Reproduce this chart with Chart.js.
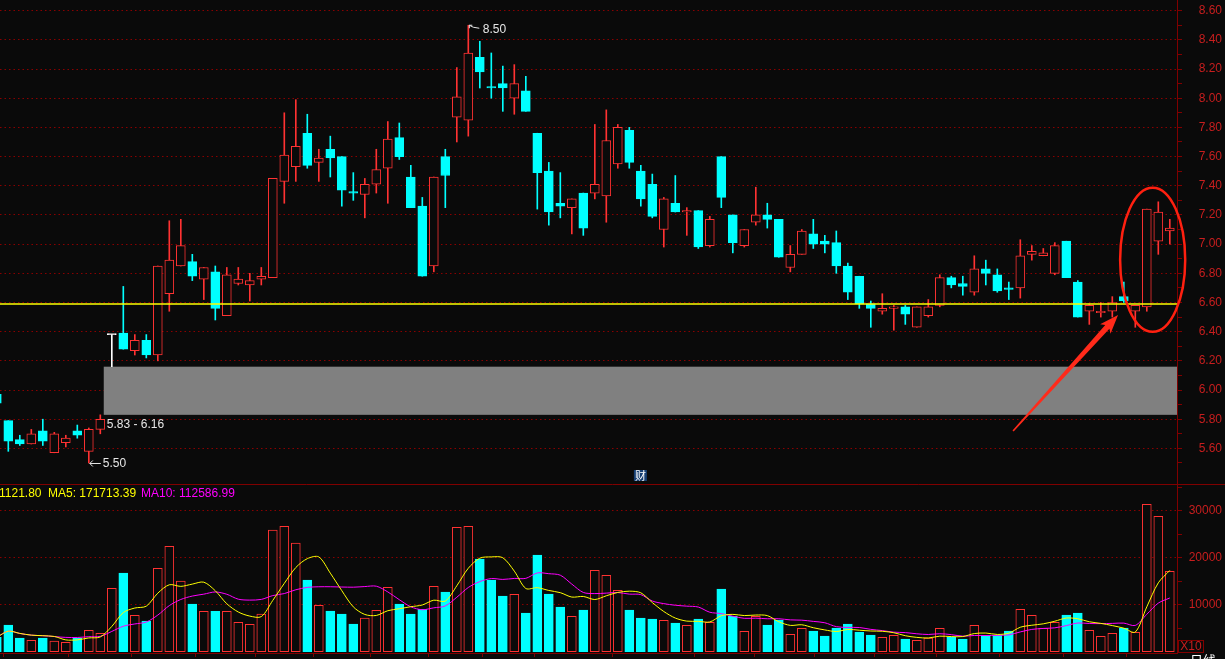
<!DOCTYPE html>
<html>
<head>
<meta charset="utf-8">
<script src="https://cdn.jsdelivr.net/npm/chart.js@4.4.1/dist/chart.umd.min.js"></script>
<style>
  html, body { margin: 0; padding: 0; background: #0a0a0a; overflow: hidden; }
  #wrap { position: relative; width: 1225px; height: 659px; }
  #priceChart { position: absolute; left: 0; top: 0; }
  #volChart { position: absolute; left: 0; top: 484px; }
</style>
</head>
<body>
<div id="wrap">
  <canvas id="priceChart" width="1225" height="484"></canvas>
  <canvas id="volChart" width="1225" height="175"></canvas>
</div>
<script>
// daily candles, oldest first (index 0 is only half on screen)
const opens = [5.97, 5.79, 5.66, 5.63, 5.72, 5.57, 5.64, 5.72, 5.58, 5.73,
  6.38, 6.39, 6.27, 6.34, 6.24, 6.66, 6.85, 6.88, 6.76, 6.81,
  6.51, 6.73, 6.72, 6.76, 6.77, 7.43, 7.53, 7.76, 7.56, 7.65,
  7.60, 7.36, 7.34, 7.41, 7.52, 7.73, 7.46, 7.26, 6.85, 7.60,
  7.87, 7.85, 8.28, 8.08, 8.10, 8.00, 8.05, 7.76, 7.50, 7.28,
  7.25, 7.35, 7.35, 7.33, 7.55, 7.78, 7.50, 7.41, 7.10, 7.28,
  7.22, 7.23, 6.99, 7.60, 7.20, 6.99, 7.15, 7.20, 7.17, 6.84,
  6.93, 7.07, 7.02, 7.01, 6.85, 6.78, 6.59, 6.54, 6.56, 6.57,
  6.43, 6.51, 6.58, 6.77, 6.73, 6.67, 6.83, 6.79, 6.70, 6.70,
  6.93, 6.92, 6.80, 7.02, 6.74, 6.54, 6.53, 6.54, 6.64, 6.54,
  6.57, 7.02, 7.09];
const highs = [5.99, 5.79, 5.69, 5.73, 5.80, 5.71, 5.69, 5.76, 5.74, 5.83,
  6.38, 6.71, 6.38, 6.38, 6.85, 7.16, 7.17, 6.93, 6.84, 6.85,
  6.84, 6.84, 6.80, 6.84, 7.45, 7.90, 7.99, 7.89, 7.65, 7.74,
  7.60, 7.49, 7.45, 7.65, 7.84, 7.83, 7.54, 7.32, 7.46, 7.65,
  8.21, 8.50, 8.39, 8.31, 8.22, 8.23, 8.15, 7.76, 7.56, 7.49,
  7.31, 7.35, 7.82, 7.92, 7.82, 7.80, 7.54, 7.48, 7.32, 7.47,
  7.25, 7.23, 7.19, 7.60, 7.20, 7.10, 7.39, 7.28, 7.17, 6.99,
  7.10, 7.17, 7.06, 7.09, 6.87, 6.78, 6.61, 6.66, 6.58, 6.58,
  6.57, 6.62, 6.79, 6.78, 6.78, 6.92, 6.89, 6.83, 6.74, 7.03,
  6.99, 6.97, 7.01, 7.02, 6.75, 6.59, 6.60, 6.64, 6.74, 6.58,
  7.24, 7.29, 7.17];
const lows = [5.88, 5.58, 5.62, 5.63, 5.62, 5.57, 5.61, 5.67, 5.50, 5.70,
  6.16, 6.28, 6.24, 6.22, 6.20, 6.54, 6.85, 6.75, 6.62, 6.48,
  6.51, 6.72, 6.61, 6.72, 6.77, 7.28, 7.43, 7.52, 7.43, 7.46,
  7.26, 7.30, 7.18, 7.35, 7.28, 7.58, 7.25, 6.78, 6.81, 7.25,
  7.70, 7.74, 8.07, 8.00, 7.91, 7.89, 7.91, 7.24, 7.13, 7.18,
  7.07, 7.06, 7.31, 7.15, 7.52, 7.52, 7.26, 7.18, 6.98, 7.22,
  7.06, 6.97, 6.98, 7.25, 6.94, 6.98, 7.13, 7.11, 6.91, 6.81,
  6.93, 6.97, 6.94, 6.80, 6.62, 6.56, 6.43, 6.52, 6.41, 6.45,
  6.43, 6.50, 6.57, 6.70, 6.65, 6.65, 6.72, 6.67, 6.62, 6.63,
  6.89, 6.92, 6.79, 6.77, 6.50, 6.45, 6.50, 6.50, 6.60, 6.43,
  6.54, 6.93, 7.00];
const closes = [5.91, 5.65, 5.63, 5.70, 5.65, 5.70, 5.67, 5.69, 5.73, 5.80,
  6.38, 6.28, 6.34, 6.24, 6.85, 6.89, 6.99, 6.78, 6.84, 6.56,
  6.79, 6.76, 6.75, 6.78, 7.45, 7.61, 7.67, 7.54, 7.59, 7.59,
  7.37, 7.35, 7.41, 7.51, 7.72, 7.60, 7.25, 6.78, 7.46, 7.47,
  8.01, 8.31, 8.18, 8.07, 8.07, 8.10, 7.91, 7.49, 7.22, 7.26,
  7.31, 7.11, 7.41, 7.71, 7.80, 7.56, 7.31, 7.19, 7.31, 7.22,
  7.23, 6.98, 7.17, 7.32, 7.01, 7.10, 7.20, 7.17, 6.91, 6.93,
  7.09, 7.00, 7.00, 6.85, 6.67, 6.59, 6.56, 6.56, 6.57, 6.52,
  6.57, 6.57, 6.77, 6.72, 6.71, 6.83, 6.80, 6.68, 6.69, 6.92,
  6.95, 6.94, 6.99, 6.77, 6.50, 6.58, 6.54, 6.60, 6.61, 6.58,
  7.24, 7.22, 7.11];
// volume in units of 10 shares (axis shows X10)
const volumes = [3060, 5680, 2920, 2430, 2920, 2280, 2000, 2920, 4550, 3920,
  13490, 16750, 7750, 6530, 17750, 22430, 15040, 10150, 8600, 8600,
  8600, 6260, 5830, 8020, 25890, 26680, 23130, 15260, 9870, 8660,
  8020, 5890, 7170, 8810, 13700, 10150, 8020, 9020, 13920, 12700,
  26470, 26680, 19720, 15260, 11850, 12210, 8230, 20570, 12280, 9510,
  7530, 8870, 17320, 16260, 13060, 8870, 7170, 6960, 6680, 6110,
  5620, 6960, 6260, 13340, 7530, 4340, 7530, 5680, 6750, 3700,
  4980, 4400, 3340, 5040, 5890, 4190, 3550, 3060, 3490, 2700,
  2430, 2920, 4980, 3060, 2700, 5620, 3490, 3490, 4400, 9020,
  7750, 4980, 6260, 7810, 8230, 4550, 3280, 3920, 5040, 4130,
  31360, 28810, 17112];

const priceTicks = [5.6, 5.8, 6.0, 6.2, 6.4, 6.6, 6.8, 7.0, 7.2, 7.4, 7.6, 7.8, 8.0, 8.2, 8.4, 8.6];
const volumeTicks = [10000, 20000, 30000];
const monthTicks = [20, 40, 58, 79, 101];
const monthLabels = ['9', '10', '11', '12', '1'];
const weekTicks = [3.4, 9, 14.5, 25, 30, 35, 44.5, 49, 63.3, 68.5, 73.7, 84.4, 90, 95.5];
const supportLevel = 6.59;
const gapLow = 5.83;
const gapHigh = 6.16;
const volText = 'VOLUME: 171121.80';
const ma5Text = 'MA5: 171713.39';
const ma10Text = 'MA10: 112586.99';

const X_MIN = 0.278, X_MAX = 102.626;
const BG = '#0a0a0a', RED = '#ff3232', CYAN = '#00ffff', GRID = '#8a0000', AXIS = '#800000', LABEL = '#c81e1e';
const FONT = "'Liberation Sans', Arial, sans-serif";

const idx = opens.map((_, i) => i);
function candleColor(i) {
  if (closes[i] > opens[i]) return RED;
  if (closes[i] < opens[i]) return CYAN;
  return '#ffffff';
}
function movingAverage(values, n) {
  return values.map((_, i) => {
    const win = values.slice(Math.max(0, i - n + 1), i + 1);
    return win.reduce((a, b) => a + b, 0) / win.length;
  });
}
const ma5 = movingAverage(volumes, 5);
const ma10 = movingAverage(volumes, 10);

function isLabelled(list, v) {
  return list.some(t => Math.abs(t - v) < 1e-6);
}
function noPadding(scale) {
  scale.paddingTop = 0;
  scale.paddingBottom = 0;
  scale.paddingLeft = 0;
  scale.paddingRight = 0;
}

const priceDecor = {
  id: 'priceDecor',
  beforeDatasetsDraw(chart) {
    const { ctx, chartArea, scales: { x, y } } = chart;
    const left = x.getPixelForValue(9.3);
    const top = y.getPixelForValue(gapHigh);
    const bottom = y.getPixelForValue(gapLow);
    ctx.save();
    ctx.fillStyle = '#808080';
    ctx.fillRect(left, top, chartArea.right - left, bottom - top);
    ctx.restore();
  },
  afterDatasetsDraw(chart) {
    const { ctx, scales: { x, y } } = chart;
    ctx.save();
    ctx.font = '12px ' + FONT;
    ctx.fillStyle = '#e6e6e6';
    ctx.strokeStyle = '#e6e6e6';
    ctx.lineWidth = 1;
    ctx.textBaseline = 'middle';

    // highest high
    let hi = 0, lo = 1;
    idx.forEach(i => { if (highs[i] > highs[hi]) hi = i; if (lows[i] < lows[lo]) lo = i; });
    let px = x.getPixelForValue(hi), py = y.getPixelForValue(highs[hi]);
    ctx.beginPath();
    ctx.moveTo(px + 1, py + 3); ctx.lineTo(px + 1, py); ctx.lineTo(px + 4, py);
    ctx.moveTo(px + 1, py); ctx.lineTo(px + 5, py + 2); ctx.lineTo(px + 11, py + 3);
    ctx.stroke();
    ctx.fillText(highs[hi].toFixed(2), px + 14.5, py + 4);

    // lowest low
    px = x.getPixelForValue(lo); py = y.getPixelForValue(lows[lo]);
    ctx.beginPath();
    ctx.moveTo(px + 1, py + 0.5); ctx.lineTo(px + 12, py + 0.5);
    ctx.moveTo(px + 4, py - 2.5); ctx.lineTo(px + 1, py + 0.5); ctx.lineTo(px + 4, py + 3.5);
    ctx.stroke();
    ctx.fillText(lows[lo].toFixed(2), px + 14, py + 1);

    // gap label
    ctx.fillText(gapLow.toFixed(2) + ' - ' + gapHigh.toFixed(2), x.getPixelForValue(9) + 6.5, y.getPixelForValue(gapLow) + 9.5);

    // red ellipse round the last three candles
    ctx.strokeStyle = '#ff2010';
    ctx.lineWidth = 2.5;
    const cx = x.getPixelForValue(100.51), cy = y.getPixelForValue(6.893);
    const rx = x.getPixelForValue(100.51 + 2.83) - cx;
    const ry = y.getPixelForValue(6.893 - 0.4935) - cy;
    ctx.beginPath();
    ctx.ellipse(cx, cy, rx, ry, 0, 0, Math.PI * 2);
    ctx.stroke();

    // red arrow pointing at the breakout
    const tx = x.getPixelForValue(88.37), ty = y.getPixelForValue(5.719);
    const hx = x.getPixelForValue(97.5), hy = y.getPixelForValue(6.515);
    const ang = Math.atan2(hy - ty, hx - tx);
    const len = Math.hypot(hx - tx, hy - ty);
    ctx.translate(tx, ty);
    ctx.rotate(ang);
    ctx.fillStyle = '#ff2a1a';
    ctx.beginPath();
    ctx.moveTo(0, -0.8);
    ctx.lineTo(len - 16, -2.8);
    ctx.lineTo(len - 19, -7);
    ctx.lineTo(len, 0);
    ctx.lineTo(len - 19, 7);
    ctx.lineTo(len - 16, 2.8);
    ctx.lineTo(0, 0.8);
    ctx.closePath();
    ctx.fill();
    ctx.restore();

    // finance icon
    ctx.save();
    const ix = x.getPixelForValue(55.4), iy = chart.chartArea.bottom - 14;
    ctx.fillStyle = '#163f73';
    ctx.fillRect(ix, iy, 13, 11);
    ctx.fillStyle = '#ffffff';
    ctx.font = "11px 'Noto Sans CJK SC', sans-serif";
    ctx.textAlign = 'center';
    ctx.textBaseline = 'middle';
    ctx.fillText('财', ix + 6.5, iy + 5.5);
    ctx.restore();
  }
};

const volDecor = {
  id: 'volDecor',
  afterDraw(chart) {
    const { ctx, width } = chart;
    ctx.save();
    ctx.strokeStyle = AXIS;
    ctx.lineWidth = 1;
    ctx.beginPath();
    ctx.moveTo(0, 0.5); ctx.lineTo(width, 0.5);
    ctx.stroke();

    ctx.font = '12px ' + FONT;
    ctx.textBaseline = 'middle';
    ctx.fillStyle = '#ffff00';
    ctx.textAlign = 'right';
    ctx.fillText(volText, 41.5, 9.5);
    ctx.textAlign = 'left';
    ctx.fillText(ma5Text, 48, 9.5);
    ctx.fillStyle = '#ff00ff';
    ctx.fillText(ma10Text, 141, 9.5);

    // X10 box
    ctx.strokeStyle = AXIS;
    ctx.strokeRect(1178.5, 156.5, 25, 12);
    ctx.fillStyle = LABEL;
    ctx.textAlign = 'center';
    ctx.fillText('X10', 1191, 163);

    ctx.fillStyle = '#ffffff';
    ctx.textAlign = 'left';
    ctx.textBaseline = 'top';
    ctx.font = "13px 'Noto Sans CJK SC', sans-serif";
    ctx.fillText('日线', 1190, 170);
    ctx.restore();
  }
};

new Chart(document.getElementById('priceChart'), {
  type: 'bar',
  data: {
    datasets: [{
      type: 'line',
      data: [{ x: X_MIN, y: supportLevel }, { x: X_MAX, y: supportLevel }],
      borderColor: '#ffff00',
      borderWidth: 1.6,
      pointRadius: 0,
      order: 0,
    }, {
      data: idx.map(i => ({ x: i, y: [opens[i], closes[i]] })),
      backgroundColor: idx.map(i => closes[i] > opens[i] ? BG : candleColor(i)),
      borderColor: idx.map(candleColor),
      borderWidth: 1,
      borderSkipped: false,
      barThickness: 9,
      minBarLength: 1,
      grouped: false,
      order: 1,
    }, {
      data: idx.map(i => ({ x: i, y: [lows[i], highs[i]] })),
      backgroundColor: idx.map(candleColor),
      borderWidth: 0,
      barThickness: 1,
      grouped: false,
      order: 2,
    }],
  },
  options: {
    responsive: false,
    animation: false,
    events: [],
    layout: { padding: { top: 0, left: 0, bottom: 0, right: 3 }, autoPadding: false },
    plugins: { legend: { display: false }, tooltip: { enabled: false } },
    scales: {
      x: { type: 'linear', min: X_MIN, max: X_MAX, display: false, offset: false },
      y: {
        type: 'linear',
        position: 'right',
        min: 5.356,
        max: 8.673,
        afterBuildTicks(scale) {
          const all = [];
          priceTicks.forEach(v => { all.push(v - 0.1, v); });
          scale.ticks = all.map(v => ({ value: v }));
        },
        afterFit(scale) { scale.width = 45; noPadding(scale); },
        ticks: {
          autoSkip: false,
          color: LABEL,
          font: { family: FONT, size: 12 },
          crossAlign: 'far',
          padding: 13,
          callback: v => isLabelled(priceTicks, v) ? v.toFixed(2) : '',
        },
        grid: {
          color: c => c.tick && isLabelled(priceTicks, c.tick.value) ? GRID : 'rgba(0,0,0,0)',
          tickColor: AXIS,
          tickLength: 5,
          tickBorderDash: [],
        },
        border: { display: true, color: AXIS, width: 1, dash: [1.5, 3] },
      },
    },
  },
  plugins: [priceDecor],
});

new Chart(document.getElementById('volChart'), {
  type: 'bar',
  data: {
    datasets: [{
      type: 'line',
      data: idx.map(i => ({ x: i, y: ma5[i] })),
      borderColor: '#ffff00',
      borderWidth: 1,
      pointRadius: 0,
      tension: 0.3,
      order: 0,
    }, {
      type: 'line',
      data: idx.map(i => ({ x: i, y: ma10[i] })),
      borderColor: '#ff00ff',
      borderWidth: 1,
      pointRadius: 0,
      tension: 0.3,
      order: 1,
    }, {
      data: idx.map(i => ({ x: i, y: volumes[i] })),
      backgroundColor: idx.map(i => closes[i] >= opens[i] ? BG : CYAN),
      borderColor: idx.map(i => closes[i] >= opens[i] ? RED : CYAN),
      borderWidth: 1,
      borderSkipped: false,
      barThickness: 9,
      grouped: false,
      order: 2,
    }],
  },
  options: {
    responsive: false,
    animation: false,
    events: [],
    layout: { padding: { top: 1, left: 0, right: 3, bottom: 0 }, autoPadding: false },
    plugins: { legend: { display: false }, tooltip: { enabled: false } },
    scales: {
      x: {
        type: 'linear',
        min: X_MIN,
        max: X_MAX,
        position: 'bottom',
        offset: false,
        afterBuildTicks(scale) {
          scale.ticks = weekTicks.concat(monthTicks).sort((a, b) => a - b).map(v => ({ value: v }));
        },
        afterFit(scale) { scale.height = 6; noPadding(scale); },
        ticks: {
          autoSkip: false,
          maxRotation: 0,
          padding: 0,
          color: LABEL,
          font: { family: FONT, size: 12 },
          callback: v => {
            const k = monthTicks.indexOf(v);
            return k >= 0 ? monthLabels[k] : '';
          },
        },
        grid: { drawOnChartArea: false, tickColor: AXIS, tickLength: 4 },
        border: { color: AXIS, width: 1 },
      },
      y: {
        type: 'linear',
        position: 'right',
        min: -277,
        max: 35468,
        afterBuildTicks(scale) {
          scale.ticks = [5000, 10000, 15000, 20000, 25000, 30000, 35000].map(v => ({ value: v }));
        },
        afterFit(scale) { scale.width = 45; noPadding(scale); },
        ticks: {
          autoSkip: false,
          color: LABEL,
          font: { family: FONT, size: 12 },
          crossAlign: 'far',
          padding: 3,
          callback: v => isLabelled(volumeTicks, v) ? String(v) : '',
        },
        grid: {
          color: c => c.tick && isLabelled(volumeTicks, c.tick.value) ? GRID : 'rgba(0,0,0,0)',
          tickColor: AXIS,
          tickLength: 5,
          tickBorderDash: [],
        },
        border: { display: true, color: AXIS, width: 1, dash: [1.5, 3] },
      },
    },
  },
  plugins: [volDecor],
});
</script>
</body>
</html>
